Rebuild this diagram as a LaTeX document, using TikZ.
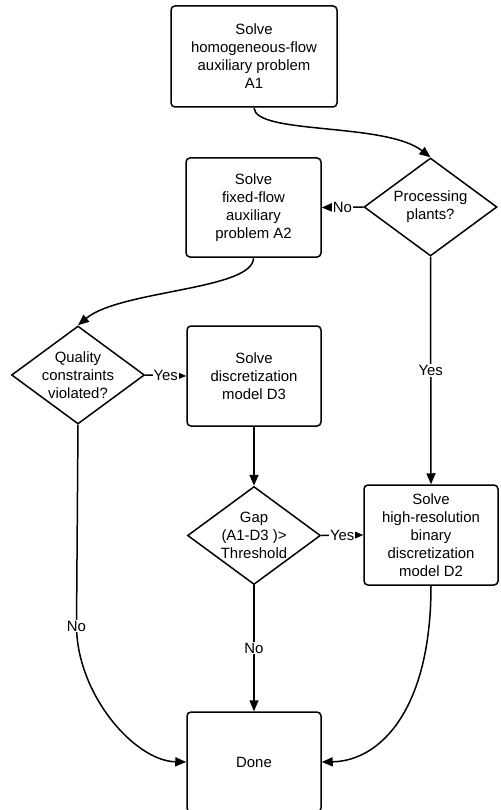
\documentclass[tikz,border=0pt]{standalone}
\usepackage{fontspec}
\setmainfont{Liberation Sans}
\usetikzlibrary{shapes.geometric,arrows.meta}
\begin{document}
\begin{tikzpicture}[x=1pt,y=-1pt,
  every node/.style={font=\fontsize{14.9}{18}\selectfont},
  box/.style={draw,line width=1.5pt,rounded corners=4pt,align=center,inner sep=0pt},
  dia/.style={draw,diamond,line width=1.5pt,inner sep=0pt,minimum width=133pt,minimum height=98pt},
  link/.style={line width=1.5pt,-{Triangle[length=11pt,width=9pt]}},
  lab/.style={fill=white,inner sep=1pt}]
\useasboundingbox (0,0) rectangle (500,810);

% process boxes
\node[box,minimum width=166pt,minimum height=101pt] (a1) at (254,56.5)
  {Solve\\homogeneous-flow\\auxiliary problem\\A1};
\node[box,minimum width=135pt,minimum height=99pt] (a2) at (253.5,207.5)
  {Solve\\fixed-flow\\auxiliary\\problem A2};
\node[box,minimum width=134pt,minimum height=100pt] (d3) at (254,376)
  {Solve\\discretization\\model D3};
\node[box,minimum width=134pt,minimum height=100pt] (d2) at (431,535)
  {Solve\\high-resolution\\binary\\discretization\\model D2};
\node[box,minimum width=134pt,minimum height=100pt] (done) at (254,762)
  {Done};

% decisions
\node[dia,label={[align=center]center:Processing\\plants?}] (pp) at (430.5,207) {};
\node[dia,label={[align=center]center:Quality\\constraints\\violated?}] (qc) at (78,375) {};
\node[dia,label={[align=center]center:Gap\\(A1-D3 )>\\Threshold}] (gap) at (254,535.5) {};

% connectors
\draw[link] (a1.south) .. controls (255,135) and (385,122) .. (pp.north);
\draw[link] (pp.west) -- node[lab]{No} (a2.east);
\draw[link] (a2.south) .. controls (254,290) and (120,290) .. (qc.north);
\draw[link] (qc.east) -- node[lab]{Yes} (d3.west);
\draw[link] (d3.south) -- (gap.north);
\draw[link] (pp.south) -- node[lab]{Yes} (d2.north);
\draw[link] (gap.east) -- node[lab]{Yes} (d2.west);
\draw[link] (gap.south) -- node[lab]{No} (done.north);
\draw[link] (qc.south) -- (76.5,626) node[lab]{No}
  .. controls (77,695) and (135,761) .. (done.west);
\draw[link] (d2.south) .. controls (431,710) and (380,761) .. (done.east);
\end{tikzpicture}
\end{document}
